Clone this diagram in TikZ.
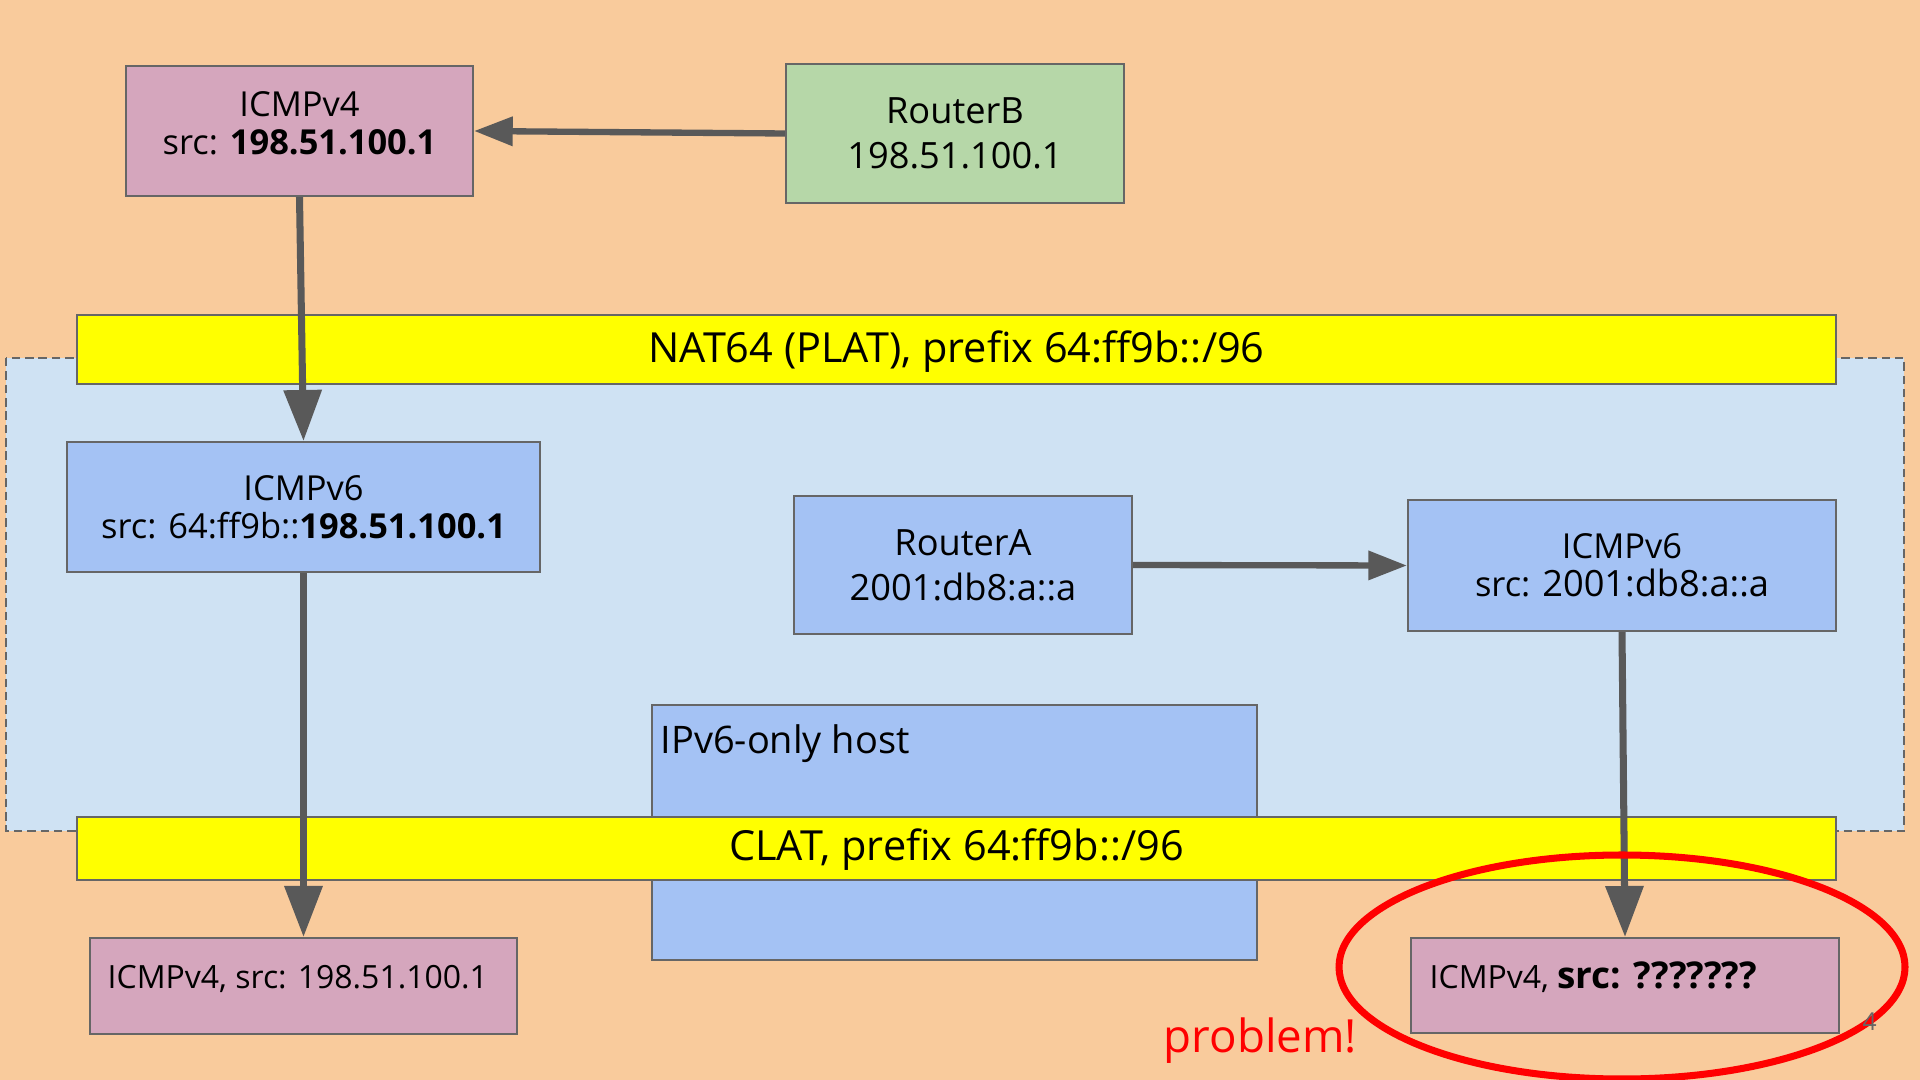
\documentclass[tikz,border=0pt]{standalone}
\usepackage{fontspec}
\setmainfont{Open Sans}
\usepackage{tikz}
\usetikzlibrary{positioning,arrows.meta,shapes.geometric}
\definecolor{peach}{HTML}{F9CB9C}
\definecolor{pktpink}{HTML}{D5A6BD}
\definecolor{rtgreen}{HTML}{B6D7A8}
\definecolor{v6blue}{HTML}{A4C2F4}
\definecolor{v6zone}{HTML}{CFE2F3}
\definecolor{xlatyellow}{HTML}{FFFF00}
\definecolor{edgegray}{HTML}{666666}
\definecolor{flowgray}{HTML}{595959}
\tikzset{
  box/.style={
    rectangle, draw=edgegray, line width=0.6pt,
    inner sep=0pt, align=center
  },
  pkt4/.style={box, fill=pktpink, font=\fontsize{9.8}{10.8}\selectfont},
  pkt6/.style={box, fill=v6blue, font=\fontsize{9.8}{10.8}\selectfont},
  router/.style={box, font=\fontsize{10.3}{12.9}\selectfont},
  xlat/.style={
    box, fill=xlatyellow, minimum width=17.59cm,
    font=\fontsize{11.8}{13}\selectfont
  },
  pkttext/.style={inner sep=0pt, font=\fontsize{9.1}{11}\selectfont},
  zone/.style={draw=edgegray, fill=v6zone, line width=0.6pt, dash pattern=on 2.4pt off 1.4pt},
  flow/.style={
    -{Triangle[length=14.5pt,width=10.5pt]},
    line width=2pt, draw=flowgray
  },
  flowsm/.style={
    -{Triangle[length=11pt,width=8pt]},
    line width=1.8pt, draw=flowgray
  },
  ring/.style={ellipse, draw=red, line width=2pt, minimum width=5.66cm, minimum height=2.24cm},
}
\begin{document}
\begin{tikzpicture}
  \fill[peach] (0,0) rectangle (19.2,-10.8);
  \useasboundingbox (0,0) rectangle (19.2,-10.8);
  \draw[zone] (0.06,-3.58) rectangle (19.04,-8.31);
  \node[box, fill=v6blue, minimum width=6.05cm, minimum height=2.55cm] (host) at (9.545,-8.325) {};
  \node[inner sep=0pt, font=\fontsize{10.8}{13}\selectfont, anchor=base west] (hostT) at ([xshift=0.09cm,yshift=-0.50cm]host.north west) {IPv6-only host};
  \node[xlat, minimum height=0.69cm, text height=0.36cm] (nat64) at (9.565,-3.495) {NAT64 (PLAT), prefix 64:ff9b::/96};
  \node[xlat, minimum height=0.63cm, text height=0.34cm] (clat) at (9.565,-8.485) {CLAT, prefix 64:ff9b::/96};
  \node[pkt4, minimum width=3.47cm, minimum height=1.30cm, text depth=0.15cm] (v4in) at (2.995,-1.31) {ICMPv4\\src: \textbf{198.51.100.1}};
  \node[router, fill=rtgreen, minimum width=3.38cm, minimum height=1.39cm] (routerB) at (9.55,-1.335) {RouterB\\198.51.100.1};
  \node[pkt6, minimum width=4.73cm, minimum height=1.30cm] (v6xl) at (3.035,-5.07) {ICMPv6\\src: 64:ff9b::\textbf{198.51.100.1}};
  \node[router, fill=v6blue, minimum width=3.38cm, minimum height=1.38cm] (routerA) at (9.63,-5.65) {RouterA\\2001:db8:a::a};
  \node[pkt6, minimum width=4.28cm, minimum height=1.31cm] (v6na) at (16.22,-5.655) {ICMPv6\\src: {\fontsize{10.3}{10.8}\selectfont 2001:db8:a::a}};
  \node[pkt4, minimum width=4.27cm, minimum height=0.96cm] (v4out) at (3.035,-9.86) {};
  \node[pkttext, anchor=base west] (v4outT) at ([xshift=0.18cm,yshift=-0.02cm]v4out.west) {ICMPv4, src: 198.51.100.1};
  \node[pkt4, minimum width=4.28cm, minimum height=0.95cm] (v4bad) at (16.25,-9.855) {};
  \node[pkttext, anchor=base west] (v4badT) at ([xshift=0.19cm,yshift=-0.025cm]v4bad.west) {ICMPv4, {\fontsize{10.5}{11}\selectfont\bfseries src: ???????}};
  \draw[flowsm] (routerB.west) -- (v4in.east);
  \draw[flow] (v4in.south) -- (v6xl.north);
  \draw[flow] (v6xl.south) -- (v4out.north);
  \draw[flowsm] (routerA.east) -- (v6na.west);
  \draw[flow] (v6na.south) -- (v4bad.north);
  \node[ring] (trouble) at (16.22,-9.67) {};
  \node[inner sep=0pt, text=red, font=\fontsize{13}{15}\selectfont, anchor=base west] (problem) at (11.63,-10.52) {problem!};
  \node[inner sep=0pt, text=edgegray, font=\fontsize{7}{8}\selectfont, anchor=base west] (pageno) at (18.62,-10.30) {4};
\end{tikzpicture}
\end{document}
